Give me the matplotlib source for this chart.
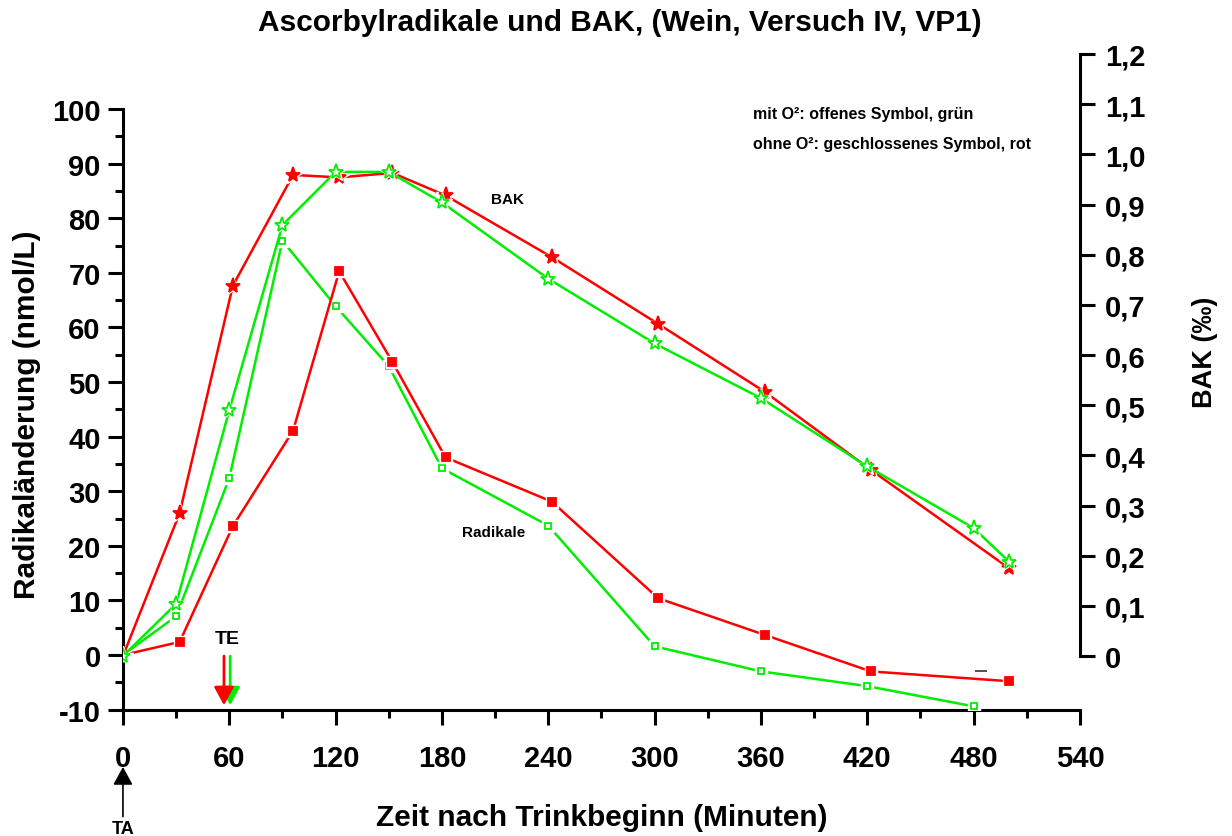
import numpy as np
import matplotlib
matplotlib.use('Agg')
import matplotlib.pyplot as plt
from matplotlib.ticker import FixedLocator, MultipleLocator

plt.rcParams['font.family'] = ['Liberation Sans', 'DejaVu Sans']
plt.rcParams['font.weight'] = 'bold'
plt.rcParams['axes.unicode_minus'] = False

# BAK (promille), right axis
t_bak_red = [0, 32, 62, 96, 122, 152, 182, 242, 302, 362, 422, 500]
bak_red = [0, 0.285, 0.738, 0.959, 0.954, 0.963, 0.918, 0.795, 0.662, 0.527, 0.371, 0.175]
t_bak_green = [0, 30, 60, 90, 120, 150, 180, 240, 300, 360, 420, 480, 500]
bak_green = [0, 0.104, 0.49, 0.859, 0.965, 0.965, 0.904, 0.752, 0.623, 0.514, 0.378, 0.255, 0.188]

# Radikale (nmol/L), left axis
t_rad_red = [0, 32, 62, 96, 122, 152, 182, 242, 302, 362, 422, 500]
rad_red = [0, 2.4, 23.6, 41.1, 70.3, 53.7, 36.2, 28.1, 10.4, 3.7, -3.0, -4.8]
t_rad_green = [0, 30, 60, 90, 120, 150, 180, 240, 300, 360, 420, 480]
rad_green = [0, 7.1, 32.4, 75.9, 63.9, 52.9, 34.2, 23.7, 1.6, -3.0, -5.7, -9.4]

x_ticks = list(range(0, 541, 60))
right_ticks = [0, 0.1, 0.2, 0.3, 0.4, 0.5, 0.6, 0.7, 0.8, 0.9, 1.0, 1.1, 1.2]
right_labels = ['0'] + [('%.1f' % v).replace('.', ',') for v in right_ticks[1:]]

RED = '#ff0000'
GREEN = '#00ee00'

fig = plt.figure(figsize=(12.32, 8.37), dpi=100)
ax = fig.add_axes([0.0998, 0.151, 0.7768, 0.7833])
ax2 = ax.twinx()


def series(axis, x, y, color, marker, ms, filled, z):
    axis.plot(x, y, color=color, lw=1.8, zorder=z)
    # white halo -> small gaps in lines around markers
    axis.plot(x, y, ls='none', marker=marker, ms=ms + 3.5, color='white',
              mec='white', zorder=z + 0.1)
    axis.plot(x, y, ls='none', marker=marker, ms=ms, color=color,
              mfc=color if filled else 'white', mec=color, mew=1.3, zorder=z + 0.2)


series(ax2, t_bak_red, bak_red, RED, '*', 11, True, 3)
series(ax2, t_bak_green, bak_green, GREEN, '*', 11, False, 4)
series(ax, t_rad_green, rad_green, GREEN, 's', 5, False, 3)
series(ax, t_rad_red, rad_red, RED, 's', 5.5, True, 4)

# left axis
ax.set_xlim(0, 540)
ax.set_ylim(-10, 110.1)
ax.spines['left'].set_bounds(-10, 100)
ax.spines['top'].set_visible(False)
ax.spines['right'].set_visible(False)
ax.yaxis.set_major_locator(FixedLocator(range(-10, 101, 10)))
ax.yaxis.set_minor_locator(FixedLocator(range(-5, 100, 10)))
ax.xaxis.set_major_locator(FixedLocator(x_ticks))
ax.xaxis.set_minor_locator(MultipleLocator(30))
for sp in ['left', 'bottom']:
    ax.spines[sp].set_linewidth(2.2)
ax.tick_params(which='major', length=11, width=2.2, labelsize=21)
ax.tick_params(which='minor', length=6, width=2.2)
ax.tick_params(axis='x', which='major', pad=14)
ax.tick_params(axis='y', which='major', pad=5)
for lab in ax.get_xticklabels() + ax.get_yticklabels():
    lab.set_fontweight('bold')

# right axis
ax2.set_ylim(-0.1068, 1.2)
for sp in ['left', 'top', 'bottom']:
    ax2.spines[sp].set_visible(False)
ax2.spines['right'].set_bounds(0, 1.2)
ax2.spines['right'].set_linewidth(2.2)
ax2.yaxis.set_major_locator(FixedLocator(right_ticks))
ax2.set_yticklabels(right_labels)
ax2.tick_params(which='major', length=11, width=2.2, labelsize=21, pad=7)
for lab in ax2.get_yticklabels():
    lab.set_fontweight('bold')

fig.text(0.503, 0.972, 'Ascorbylradikale und BAK, (Wein, Versuch IV, VP1)',
         ha='center', va='center', fontsize=21.5, fontweight='bold')
fig.text(0.4883, 0.0227, 'Zeit nach Trinkbeginn (Minuten)', ha='center',
         va='center', fontsize=21.5, fontweight='bold')
fig.text(0.022, 1 - 415 / 837, 'Radikaländerung (nmol/L)', rotation=90,
         ha='center', va='center', fontsize=21.5, fontweight='bold')
fig.text(1205 / 1232, 1 - 352 / 837, 'BAK (‰)', rotation=90,
         ha='center', va='center', fontsize=19.5, fontweight='bold')

fig.text(753 / 1232, 1 - 115 / 837, 'mit O²: offenes Symbol, grün',
         ha='left', va='center', fontsize=11.5, fontweight='bold')
fig.text(753 / 1232, 1 - 144 / 837, 'ohne O²: geschlossenes Symbol, rot',
         ha='left', va='center', fontsize=11.5, fontweight='bold')
ax.text(217, 83.5, 'BAK', ha='center', va='center', fontsize=11, fontweight='bold')
ax.text(209, 22.6, 'Radikale', ha='center', va='center', fontsize=11, fontweight='bold')

# stray dash near 480 min
ax.plot([484], [-2.9], marker='_', ms=9, color='#333333', mew=1.2)

# drinking end / start arrows
ax.text(59, 3.0, 'TE', ha='center', va='center', fontsize=14, fontweight='bold')
ax.annotate('', xy=(57, -9.2), xytext=(57, -0.2),
            arrowprops=dict(arrowstyle='-|>,head_length=1.1,head_width=0.6',
                            color=RED, lw=2, mutation_scale=10, shrinkA=0, shrinkB=0),
            zorder=6)
ax.annotate('', xy=(60.5, -9.2), xytext=(60.5, -0.2),
            arrowprops=dict(arrowstyle='-|>,head_length=1.1,head_width=0.6',
                            color=GREEN, lw=2, mutation_scale=10, shrinkA=0, shrinkB=0),
            zorder=5)
ax.annotate('', xy=(0, -20.5), xytext=(0, -29.6), annotation_clip=False,
            arrowprops=dict(arrowstyle='-|>,head_length=1.1,head_width=0.6',
                            color='black', lw=1.2, mutation_scale=10, shrinkA=0, shrinkB=0))
ax.text(0, -31.8, 'TA', ha='center', va='center', fontsize=13, fontweight='bold',
        clip_on=False)

fig.savefig('out.png', dpi=100)
